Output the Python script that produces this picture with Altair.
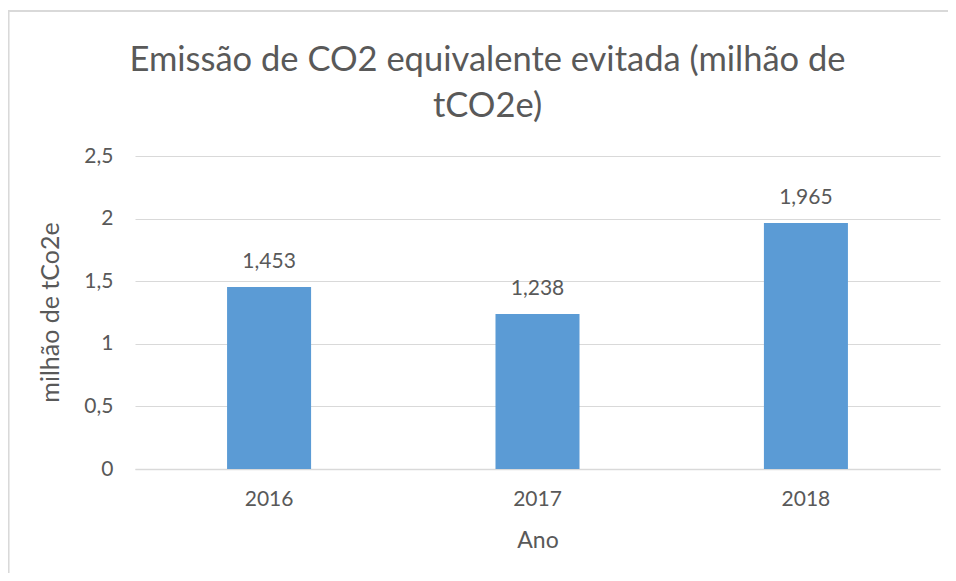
import altair as alt
import pandas as pd

anos = ["2016", "2017", "2018"]
valores = [1.453, 1.238, 1.965]

df = pd.DataFrame({"Ano": anos, "valor": valores})

GRAY = "#595959"
GRID = "#D9D9D9"
FONT = "Lato"

base = alt.Chart(df)

x = alt.X("Ano:N", title="Ano",
          scale=alt.Scale(paddingInner=0.687, paddingOuter=0.343),
          axis=alt.Axis(labelAngle=0, labelFontSize=21, labelColor=GRAY, labelFont=FONT,
                        labelPadding=19, ticks=False, domainColor=GRID, domainWidth=1.5,
                        titleFontSize=23, titleColor=GRAY, titleFont=FONT, titleFontWeight="normal",
                        titlePadding=20))
y = alt.Y("valor:Q", title="milhão de tCo2e",
          scale=alt.Scale(domain=[0, 2.5], nice=False),
          axis=alt.Axis(values=[0, 0.5, 1, 1.5, 2, 2.5],
                        labelExpr="replace(format(datum.value, '~g'), '.', ',')",
                        labelFontSize=21, labelColor=GRAY, labelFont=FONT, labelPadding=22,
                        ticks=False, domain=False, gridColor=GRID, gridWidth=1.2,
                        titleFontSize=25, titleColor=GRAY, titleFont=FONT, titleFontWeight="normal",
                        titleX=-72, titleY=156, titleAngle=-90, titleBaseline="bottom",
                        titleAlign="center"))

bars = base.mark_bar(color="#5B9BD5").encode(x=x, y=y)

labels = base.transform_calculate(
    lbl="replace(format(datum.valor, '.3f'), '.', ',')"
).mark_text(dy=-19, baseline="alphabetic", fontSize=21, color=GRAY, font=FONT).encode(
    x="Ano:N", y="valor:Q", text="lbl:N")

border = alt.Chart(df).mark_rect(fill=None, stroke=GRID, strokeWidth=1.5).encode(
    x=alt.value(-126.5), x2=alt.value(900), y=alt.value(-145), y2=alt.value(500))

chart = alt.layer(border, bars, labels).properties(
    width=805, height=313,
    title=alt.TitleParams(["Emissão de CO2 equivalente evitada (milhão de", "tCO2e)"],
                          fontSize=34.5, color=GRAY, font=FONT, fontWeight="normal",
                          anchor="middle", frame="group", dx=-50, offset=-148,
                          baseline="bottom", lineHeight=46),
    autosize=alt.AutoSizeParams(type="none"),
    padding={"left": 127, "top": 148, "right": 8, "bottom": 104},
).configure_view(stroke=None)

chart.save("out.html", embed_options={"renderer": "svg", "actions": False})
